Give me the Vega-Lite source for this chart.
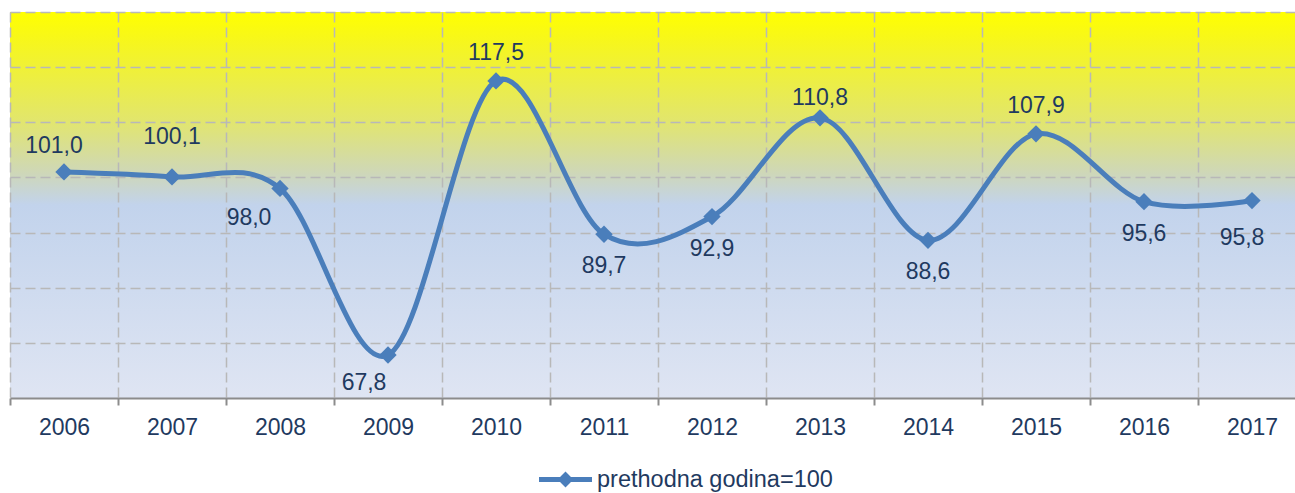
{
  "$schema": "https://vega.github.io/schema/vega-lite/v6.json",
  "width": 1285,
  "height": 386,
  "autosize": {"type": "none"},
  "padding": {"left": 10, "top": 12, "right": 0, "bottom": 95},
  "background": "white",
  "config": {
    "locale": {"number": {"decimal": ",", "thousands": ".", "grouping": [3], "currency": ["", " €"]}},
    "font": "Liberation Sans",
    "text": {"fontSize": 23, "color": "#1F3A60"},
    "view": {
      "stroke": null,
      "fill": {
        "gradient": "linear", "x1": 0, "y1": 0, "x2": 0, "y2": 1,
        "stops": [
          {"offset": 0, "color": "#FFFF00"},
          {"offset": 0.08, "color": "#F6F61E"},
          {"offset": 0.28, "color": "#E2E66C"},
          {"offset": 0.42, "color": "#CED7BA"},
          {"offset": 0.5, "color": "#C2D3EC"},
          {"offset": 1, "color": "#DFE5F3"}
        ]
      }
    }
  },
  "data": {
    "values": [
      {"year": "2006", "value": 101.0},
      {"year": "2007", "value": 100.1},
      {"year": "2008", "value": 98.0},
      {"year": "2009", "value": 67.8},
      {"year": "2010", "value": 117.5},
      {"year": "2011", "value": 89.7},
      {"year": "2012", "value": 92.9},
      {"year": "2013", "value": 110.8},
      {"year": "2014", "value": 88.6},
      {"year": "2015", "value": 107.9},
      {"year": "2016", "value": 95.6},
      {"year": "2017", "value": 95.8}
    ]
  },
  "encoding": {
    "x": {
      "field": "year", "type": "ordinal",
      "scale": {"range": [0, 1296], "paddingInner": 0, "paddingOuter": 0},
      "axis": {
        "title": null, "labelAngle": 0, "labelFontSize": 23, "labelColor": "#1F3A60",
        "labelPadding": 11, "tickSize": 7, "tickColor": "#8C8C8C", "tickWidth": 2,
        "domainColor": "#8C8C8C", "domainWidth": 2, "tickBand": "extent",
        "grid": true, "gridDash": [10, 5], "gridColor": "#B8B8B8", "gridWidth": 1.5
      }
    },
    "y": {
      "field": "value", "type": "quantitative",
      "scale": {"domain": [60, 130], "nice": false, "zero": false},
      "axis": {
        "title": null, "labels": false, "ticks": false, "domain": false,
        "values": [70, 80, 90, 100, 110, 120, 130],
        "grid": true, "gridDash": [10, 5], "gridColor": "#B8B8B8", "gridWidth": 1.5
      }
    }
  },
  "layer": [
    {
      "mark": {"type": "line", "interpolate": "cardinal", "tension": 0, "color": "#4A7EBB", "strokeWidth": 5}
    },
    {
      "mark": {"type": "point", "shape": "diamond", "filled": true, "size": 300, "opacity": 1},
      "encoding": {
        "color": {
          "datum": "prethodna godina=100", "type": "nominal",
          "scale": {"range": ["#4A7EBB"]},
          "legend": {
            "title": null, "orient": "none", "legendX": 529, "legendY": 441,
            "labelFontSize": 23.5, "labelColor": "#1F3A60", "labelOffset": 5, "labelLimit": 500,
            "symbolType": "M-1,-0.09L1,-0.09L1,0.09L-1,0.09Z M-0.3,0L0,-0.3L0.3,0L0,0.3Z",
            "symbolSize": 2809, "symbolOpacity": 1, "symbolStrokeWidth": 0
          }
        }
      }
    },
    {
      "transform": [{"filter": {"field": "year", "oneOf": ["2010", "2015"]}}],
      "mark": {"type": "text", "dy": -28},
      "encoding": {"text": {"field": "value", "type": "quantitative", "format": ".1f"}}
    },
    {
      "transform": [{"filter": {"field": "year", "equal": "2006"}}],
      "mark": {"type": "text", "dx": -10, "dy": -26},
      "encoding": {"text": {"field": "value", "type": "quantitative", "format": ".1f"}}
    },
    {
      "transform": [{"filter": {"field": "year", "equal": "2007"}}],
      "mark": {"type": "text", "dy": -40},
      "encoding": {"text": {"field": "value", "type": "quantitative", "format": ".1f"}}
    },
    {
      "transform": [{"filter": {"field": "year", "equal": "2013"}}],
      "mark": {"type": "text", "dy": -20},
      "encoding": {"text": {"field": "value", "type": "quantitative", "format": ".1f"}}
    },
    {
      "transform": [{"filter": {"field": "year", "oneOf": ["2011", "2012", "2014", "2016"]}}],
      "mark": {"type": "text", "dy": 32},
      "encoding": {"text": {"field": "value", "type": "quantitative", "format": ".1f"}}
    },
    {
      "transform": [{"filter": {"field": "year", "equal": "2017"}}],
      "mark": {"type": "text", "dx": -10, "dy": 37},
      "encoding": {"text": {"field": "value", "type": "quantitative", "format": ".1f"}}
    },
    {
      "transform": [{"filter": {"field": "year", "equal": "2008"}}],
      "mark": {"type": "text", "dx": -31, "dy": 30},
      "encoding": {"text": {"field": "value", "type": "quantitative", "format": ".1f"}}
    },
    {
      "transform": [{"filter": {"field": "year", "equal": "2009"}}],
      "mark": {"type": "text", "dx": -24, "dy": 28},
      "encoding": {"text": {"field": "value", "type": "quantitative", "format": ".1f"}}
    }
  ]
}
